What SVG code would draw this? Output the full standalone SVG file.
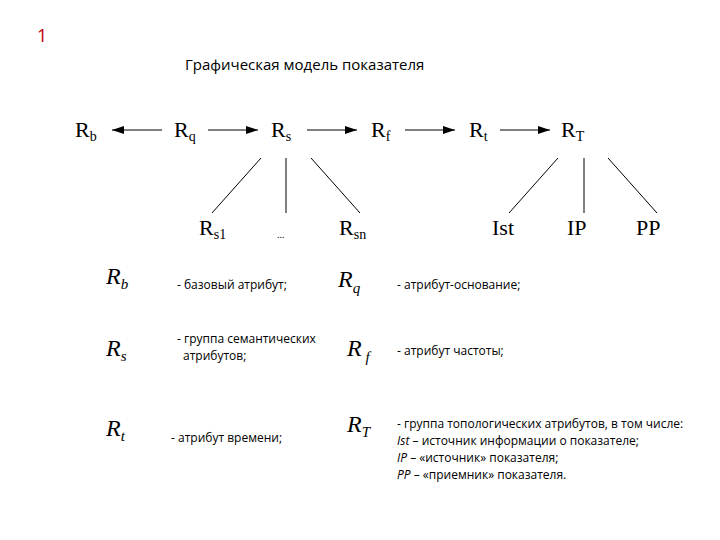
<svg xmlns="http://www.w3.org/2000/svg" width="720" height="540" viewBox="0 0 720 540">
<style>
.n{font-family:"Liberation Serif",serif;font-size:22px;fill:#000}
.s{font-size:14px}
.m{font-family:"Liberation Serif",serif;font-style:italic;font-size:24px}
.ms{font-size:15px}
.t{font-family:"Open Sans","Liberation Sans",sans-serif;font-size:12px;fill:#000}
.ti{font-style:italic}
line{stroke:#000;stroke-width:1}
</style>
<defs><marker id="a" markerWidth="12" markerHeight="8" refX="12" refY="4" orient="auto" markerUnits="userSpaceOnUse"><path d="M0,0L12,4L0,8z"/></marker></defs>
<rect width="720" height="540" fill="#fff"/>
<text x="37" y="42" font-family="Open Sans,Liberation Sans,sans-serif" font-size="18" fill="#c00000">1</text>
<text x="185" y="70" font-family="Open Sans,Liberation Sans,sans-serif" font-size="15" fill="#000">Графическая модель показателя</text>
<g id="Rb"><text class="n" x="75" y="137">R<tspan class="s" dy="4">b</tspan></text></g>
<g id="Rq"><text class="n" x="174" y="137">R<tspan class="s" dy="4">q</tspan></text></g>
<g id="Rs"><text class="n" x="271" y="137">R<tspan class="s" dy="4">s</tspan></text></g>
<g id="Rf"><text class="n" x="371" y="137">R<tspan class="s" dy="4">f</tspan></text></g>
<g id="Rt"><text class="n" x="469" y="137">R<tspan class="s" dy="4">t</tspan></text></g>
<g id="RT"><text class="n" x="561" y="137">R<tspan class="s" dy="4">T</tspan></text></g>
<g id="Rs1"><text class="n" x="199" y="235">R<tspan class="s" dy="4">s1</tspan></text></g>
<g id="dots"><text x="277" y="238" font-family="Liberation Serif,serif" font-size="10">...</text></g>
<g id="Rsn"><text class="n" x="339" y="235">R<tspan class="s" dy="4">sn</tspan></text></g>
<g id="Ist"><text class="n" x="492" y="235">Ist</text></g>
<g id="IP"><text class="n" x="567" y="235">IP</text></g>
<g id="PP"><text class="n" x="636" y="235">PP</text></g>
<g id="connectors">
<line x1="162" y1="130" x2="112" y2="130" marker-end="url(#a)"/>
<line x1="208" y1="130" x2="258" y2="130" marker-end="url(#a)"/>
<line x1="307" y1="130" x2="357" y2="130" marker-end="url(#a)"/>
<line x1="405" y1="130" x2="455" y2="130" marker-end="url(#a)"/>
<line x1="500" y1="130" x2="550" y2="130" marker-end="url(#a)"/>
<line x1="261" y1="158" x2="212" y2="213"/>
<line x1="286" y1="158" x2="286" y2="213"/>
<line x1="311" y1="158" x2="360" y2="213"/>
<line x1="558" y1="158" x2="509" y2="213"/>
<line x1="584" y1="158" x2="584" y2="213"/>
<line x1="608" y1="158" x2="657" y2="213"/>
</g>
<g id="legend">
<text class="m" x="106" y="284">R<tspan class="ms" dy="5">b</tspan></text>
<text class="t" x="177" y="289">- базовый атрибут;</text>
<text class="m" x="338" y="287">R<tspan class="ms" dy="6">q</tspan></text>
<text class="t" x="397" y="289">- атрибут-основание;</text>
<text class="m" x="106" y="356">R<tspan class="ms" dy="5">s</tspan></text>
<text class="t" x="177" y="343">- группа семантических</text>
<text class="t" x="183" y="360">атрибутов;</text>
<text class="m" x="347" y="356">R<tspan class="ms" dy="6"> f</tspan></text>
<text class="t" x="397" y="355">- атрибут частоты;</text>
<text class="m" x="106" y="436">R<tspan class="ms" dy="5">t</tspan></text>
<text class="t" x="171" y="442">- атрибут времени;</text>
<text class="m" x="347" y="432">R<tspan class="ms" dy="5">T</tspan></text>
<text class="t" x="397" y="428">- группа топологических атрибутов, в том числе:</text>
<text class="t" x="397" y="445"><tspan class="ti">Ist</tspan> – источник информации о показателе;</text>
<text class="t" x="397" y="462"><tspan class="ti">IP</tspan> – «источник» показателя;</text>
<text class="t" x="397" y="479"><tspan class="ti">PP</tspan> – «приемник» показателя.</text>
</g>
</svg>
